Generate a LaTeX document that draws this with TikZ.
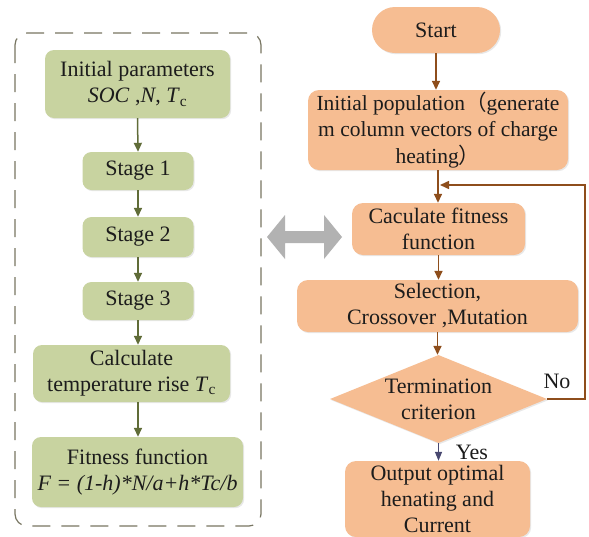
\documentclass[tikz,border=0pt]{standalone}
\usepackage{fontspec}
\setmainfont{Liberation Serif}
\newfontfamily\cjk{Noto Sans CJK SC}
\usetikzlibrary{shapes.geometric,arrows.meta,shadows}
\definecolor{gfill}{RGB}{200,211,160}
\definecolor{gline}{RGB}{96,108,56}
\definecolor{ofill}{RGB}{246,189,146}
\definecolor{oline}{RGB}{142,78,28}
\definecolor{yline}{RGB}{72,72,112}
\definecolor{txt}{RGB}{28,28,28}
\definecolor{dashc}{RGB}{120,118,98}
\definecolor{garrow}{RGB}{178,178,178}
\tikzset{
  base/.style={align=center, text=txt, font=\fontsize{22}{26}\selectfont, inner sep=0pt,
    drop shadow={opacity=0.18, shadow xshift=1.2pt, shadow yshift=-1.2pt}},
  gbox/.style={base, fill=gfill, rounded corners=9pt},
  obox/.style={base, fill=ofill, rounded corners=11pt},
  garr/.style={draw=gline, line width=1.5pt, -{Triangle[length=9pt,width=8pt]}},
  oarr/.style={draw=oline, line width=1.5pt, -{Triangle[length=9pt,width=8pt]}},
  yarr/.style={draw=yline, line width=1.4pt, -{Triangle[length=9pt,width=7pt]}},
  lbl/.style={text=txt, font=\fontsize{22}{26}\selectfont, inner sep=0pt}
}
\begin{document}
\begin{tikzpicture}[x=1pt,y=-1pt]
\useasboundingbox (0,0) rectangle (589,536);
\fill[white] (0,0) rectangle (589,536);
% left dashed panel
\draw[dashc, line width=1.2pt, dash pattern=on 18pt off 11pt, rounded corners=12pt] (15,33) rectangle (261,526);
% left column
\node[gbox, minimum width=185pt, minimum height=68pt] (ip) at (137.5,84) {Initial parameters\\\textit{SOC} ,\textit{N}, \textit{T}\textsubscript{c}};
\node[gbox, minimum width=111pt, minimum height=38pt] (s1) at (138,171) {Stage 1};
\node[gbox, minimum width=111pt, minimum height=40pt] (s2) at (138,237) {Stage 2};
\node[gbox, minimum width=111pt, minimum height=38pt] (s3) at (138,301) {Stage 3};
\node[gbox, minimum width=197pt, minimum height=57pt] (ct) at (131.5,373.5) {Calculate\\temperature rise \textit{T}\textsubscript{c}};
\node[gbox, minimum width=211pt, minimum height=70pt] (ff) at (137.5,472) {Fitness function\\\textit{F = (1-h)*N/a+h*Tc/b}};
\draw[garr] (ip.south) -- (s1.north);
\draw[garr] (s1.south) -- (s2.north);
\draw[garr] (s2.south) -- (s3.north);
\draw[garr] (s3.south) -- (s3.south |- ct.north);
\draw[garr] (s3.south |- ct.south) -- (s3.south |- ff.north);
% gray double arrow
\fill[garrow] (267,237) -- (285,215) -- (285,231) -- (324,231) -- (324,215) -- (342,237) -- (324,259) -- (324,243) -- (285,243) -- (285,259) -- cycle;
% right column
\node[obox, rounded corners=23pt, minimum width=128pt, minimum height=46pt] (st) at (436,30) {Start};
\node[obox, minimum width=260pt, minimum height=80pt, font=\fontsize{21.5}{26.5}\selectfont] (pop) at (438,130) {Initial population{\cjk （}generate\\m column vectors of charge\\heating{\cjk ）}};
\node[obox, minimum width=173pt, minimum height=52pt] (cf) at (438.5,229) {Caculate fitness\\function};
\node[obox, minimum width=281pt, minimum height=52pt] (sel) at (437.5,306) {Selection,\\Crossover ,Mutation};
\node[diamond, base, fill=ofill, minimum width=217pt, minimum height=88pt, aspect=2.47] (tc) at (438.5,399) {Termination\\criterion};
\node[obox, minimum width=185pt, minimum height=76pt] (out) at (437.5,499) {Output optimal\\henating and\\Current};
\coordinate (c1) at (585,399);
\coordinate (c2) at (585,185);
\coordinate (c3) at (440,185);
\draw[oarr] (st.south) -- (st.south |- pop.north);
\draw[oarr] (pop.south) -- (pop.south |- cf.north);
\draw[oarr] (cf.south) -- (cf.south |- sel.north);
\draw[oarr] (sel.south) -- (sel.south |- tc.north);
\draw[yarr] (tc.south) -- (tc.south |- out.north);
\draw[oarr] (tc.east) -- (c1) -- (c2) -- (c3);
\node[lbl] at (557,381) {No};
\node[lbl] at (472,452) {Yes};
\end{tikzpicture}
\end{document}
